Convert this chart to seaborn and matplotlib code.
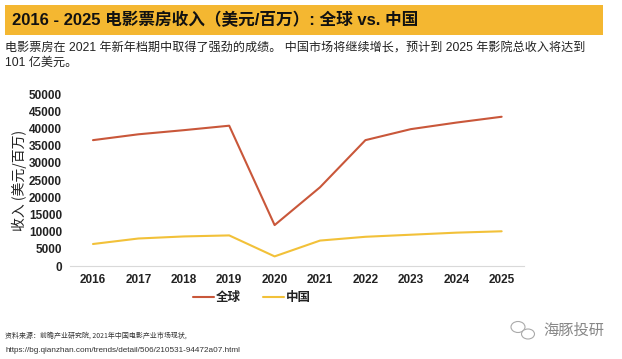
import matplotlib
matplotlib.use("Agg")
import matplotlib.pyplot as plt
import seaborn as sns
import pandas as pd
from matplotlib.patches import Rectangle, Ellipse

years = ["2016", "2017", "2018", "2019", "2020", "2021", "2022", "2023", "2024", "2025"]
global_rev = [36600, 38300, 39500, 40800, 11900, 22900, 36600, 39800, 41700, 43400]
china_rev = [6400, 8000, 8600, 8900, 2800, 7400, 8500, 9100, 9700, 10100]
series_names = ["全球", "中国"]
y_ticks = [0, 5000, 10000, 15000, 20000, 25000, 30000, 35000, 40000, 45000, 50000]

title = "2016 - 2025 电影票房收入（美元/百万）: 全球 vs. 中国"
subtitle = ("电影票房在 2021 年新年档期中取得了强劲的成绩。 中国市场将继续增长，预计到 2025 年影院总收入将达到\n"
            "101 亿美元。")
y_label = "收入 (美元/百万)"
source1 = "资料来源：前瞻产业研究院, 2021年中国电影产业市场现状,"
source2 = "https://bg.qianzhan.com/trends/detail/506/210531-94472a07.html"
watermark = "海豚投研"

df = pd.DataFrame({
    "year": years * 2,
    "value": global_rev + china_rev,
    "series": [series_names[0]] * len(years) + [series_names[1]] * len(years),
})

sns.set_theme(style="white")
plt.rcParams["font.family"] = ["Liberation Sans", "Noto Sans CJK SC", "DejaVu Sans"]

fig = plt.figure(figsize=(6.22, 3.59), dpi=100)
ax = fig.add_axes([0.113, 0.259, 0.73, 0.479])

palette = {series_names[0]: "#C9573A", series_names[1]: "#F2C139"}
sns.lineplot(data=df, x="year", y="value", hue="series", palette=palette,
             linewidth=1.5, ax=ax, sort=False)

ax.set_xlim(-0.5, len(years) - 0.5)
ax.set_ylim(0, 50000)
ax.set_yticks(y_ticks)
ax.set_yticklabels([str(v) for v in y_ticks])
ax.tick_params(axis="both", length=0, labelsize=8.5, colors="#222222", pad=6)
for lbl in ax.get_xticklabels() + ax.get_yticklabels():
    lbl.set_fontweight("bold")
ax.set_xlabel("")
ax.set_ylabel(y_label, fontsize=10, color="#222222", family=["Noto Sans CJK SC"], labelpad=1)
for s in ["top", "right", "left"]:
    ax.spines[s].set_visible(False)
ax.spines["bottom"].set_color("#D9D9D9")
ax.spines["bottom"].set_linewidth(0.8)

leg = ax.legend(loc="center", bbox_to_anchor=(0.405, 0.17), bbox_transform=fig.transFigure,
                ncol=2, frameon=False, handlelength=1.7, handletextpad=0.15, columnspacing=1.8,
                prop={"family": "Noto Sans CJK SC", "size": 9, "weight": "bold"})
for t in leg.get_texts():
    t.set_color("#222222")

# title band
fig.patches.append(Rectangle((5 / 622, 1 - 35 / 359), 598 / 622, 30 / 359,
                             transform=fig.transFigure, facecolor="#F4B731", edgecolor="none"))
fig.text(12 / 622, 1 - 20 / 359, title, fontsize=12, fontweight="bold", color="#111111",
         va="center", ha="left", family=["Liberation Sans", "Noto Sans CJK SC"])
fig.text(5 / 622, 1 - 43 / 359, subtitle, fontsize=8.7, color="#222222", va="top", ha="left",
         linespacing=1.25, family=["Liberation Sans", "Noto Sans CJK SC"])
fig.text(5 / 622, 1 - 336 / 359, source1, fontsize=5.0, color="#333333", va="center", ha="left",
         family=["Noto Sans CJK SC"])
fig.text(5 / 622, 1 - 350 / 359, source2, fontsize=5.9, color="#333333", va="center", ha="left",
         family=["Liberation Sans"])
fig.text(604 / 622, 1 - 330 / 359, watermark, fontsize=11, color="#888888", va="center", ha="right",
         family=["Noto Sans CJK SC"])
# simple watermark icon (two speech bubbles)
fig.patches.append(Ellipse((518 / 622, 1 - 327 / 359), 14 / 622, 11 / 359, transform=fig.transFigure,
                           facecolor="none", edgecolor="#AAAAAA", linewidth=0.8))
fig.patches.append(Ellipse((528 / 622, 1 - 334 / 359), 13 / 622, 10 / 359, transform=fig.transFigure,
                           facecolor="white", edgecolor="#AAAAAA", linewidth=0.8))

fig.savefig("out.png", dpi=100)
